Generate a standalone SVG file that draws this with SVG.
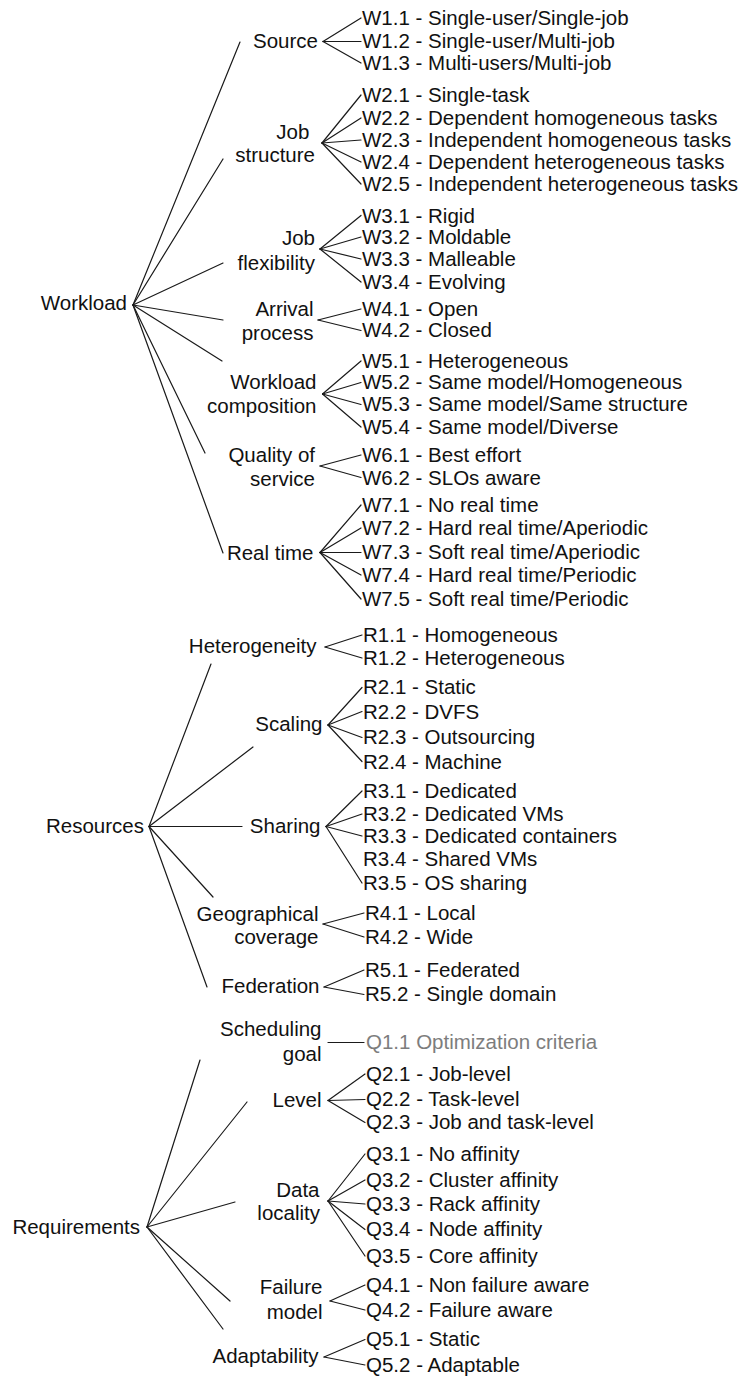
<svg xmlns="http://www.w3.org/2000/svg" width="746" height="1376" viewBox="0 0 746 1376">
<style>
text{font-family:"Liberation Sans",Arial,Helvetica,sans-serif;font-size:20.5px;fill:#111}
.e{text-anchor:end}
.gray{fill:#7d7d7d}
#connectors line{stroke:#1a1a1a;stroke-width:1.2;fill:none;stroke-linecap:round}
</style>
<rect width="746" height="1376" fill="#fff"/>
<g id="connectors">
<!-- Workload -->
<line x1="133" y1="305" x2="240" y2="42"/>
<line x1="133" y1="305" x2="223" y2="159"/>
<line x1="133" y1="305" x2="223" y2="263"/>
<line x1="133" y1="305" x2="223" y2="320"/>
<line x1="133" y1="305" x2="222" y2="361"/>
<line x1="133" y1="305" x2="205" y2="453"/>
<line x1="133" y1="305" x2="223" y2="553"/>
<!-- Source -->
<line x1="323" y1="41.5" x2="361" y2="18"/>
<line x1="323" y1="41.5" x2="361" y2="41.5"/>
<line x1="323" y1="41.5" x2="361" y2="63"/>
<!-- Job structure -->
<line x1="322" y1="143" x2="361" y2="95"/>
<line x1="322" y1="143" x2="361" y2="118"/>
<line x1="322" y1="143" x2="361" y2="140"/>
<line x1="322" y1="143" x2="361" y2="162"/>
<line x1="322" y1="143" x2="361" y2="184"/>
<!-- Job flexibility -->
<line x1="320" y1="249" x2="361" y2="215.5"/>
<line x1="320" y1="249" x2="361" y2="237"/>
<line x1="320" y1="249" x2="361" y2="259"/>
<line x1="320" y1="249" x2="361" y2="282"/>
<!-- Arrival process -->
<line x1="318" y1="320" x2="361" y2="309"/>
<line x1="318" y1="320" x2="361" y2="330.5"/>
<!-- Workload composition -->
<line x1="322.5" y1="394" x2="361" y2="361"/>
<line x1="322.5" y1="394" x2="361" y2="382.5"/>
<line x1="322.5" y1="394" x2="361" y2="404.5"/>
<line x1="322.5" y1="394" x2="361" y2="427"/>
<!-- Quality of service -->
<line x1="320" y1="466" x2="361" y2="455"/>
<line x1="320" y1="466" x2="361" y2="477.5"/>
<!-- Real time -->
<line x1="320" y1="552.5" x2="361" y2="505"/>
<line x1="320" y1="552.5" x2="361" y2="528"/>
<line x1="320" y1="552.5" x2="361" y2="552.5"/>
<line x1="320" y1="552.5" x2="361" y2="575"/>
<line x1="320" y1="552.5" x2="361" y2="599"/>
<!-- Resources -->
<line x1="149" y1="826.5" x2="211" y2="664"/>
<line x1="149" y1="826.5" x2="253" y2="747"/>
<line x1="149" y1="826.5" x2="242" y2="826.5"/>
<line x1="149" y1="826.5" x2="213" y2="897"/>
<line x1="149" y1="826.5" x2="207" y2="987"/>
<!-- Heterogeneity -->
<line x1="325" y1="647" x2="362" y2="635"/>
<line x1="325" y1="647" x2="362" y2="658"/>
<!-- Scaling -->
<line x1="328" y1="725" x2="362" y2="687.5"/>
<line x1="328" y1="725" x2="362" y2="711.5"/>
<line x1="328" y1="725" x2="362" y2="737.5"/>
<line x1="328" y1="725" x2="362" y2="761.5"/>
<!-- Sharing -->
<line x1="326" y1="826.5" x2="362" y2="791"/>
<line x1="326" y1="826.5" x2="362" y2="814"/>
<line x1="326" y1="826.5" x2="362" y2="836"/>
<line x1="326" y1="826.5" x2="362" y2="883"/>
<!-- Geographical coverage -->
<line x1="323" y1="924" x2="364" y2="913"/>
<line x1="323" y1="924" x2="364" y2="937"/>
<!-- Federation -->
<line x1="324" y1="987" x2="364" y2="970"/>
<line x1="324" y1="987" x2="364" y2="994.5"/>
<!-- Requirements -->
<line x1="147" y1="1227" x2="200" y2="1060"/>
<line x1="147" y1="1227" x2="247" y2="1102"/>
<line x1="147" y1="1227" x2="235" y2="1202"/>
<line x1="147" y1="1227" x2="230" y2="1301"/>
<line x1="147" y1="1227" x2="223" y2="1329"/>
<!-- Scheduling goal -->
<line x1="328" y1="1042.5" x2="364" y2="1042.5"/>
<!-- Level -->
<line x1="328" y1="1100.5" x2="365" y2="1074"/>
<line x1="328" y1="1100.5" x2="365" y2="1099.5"/>
<line x1="328" y1="1100.5" x2="365" y2="1122.5"/>
<!-- Data locality -->
<line x1="328" y1="1201" x2="365" y2="1154"/>
<line x1="328" y1="1201" x2="365" y2="1180"/>
<line x1="328" y1="1201" x2="365" y2="1204"/>
<line x1="328" y1="1201" x2="365" y2="1229.5"/>
<line x1="328" y1="1201" x2="365" y2="1256"/>
<!-- Failure model -->
<line x1="330" y1="1301" x2="365" y2="1285"/>
<line x1="330" y1="1301" x2="365" y2="1310"/>
<!-- Adaptability -->
<line x1="324" y1="1357" x2="365" y2="1339.5"/>
<line x1="324" y1="1357" x2="365" y2="1365"/>
</g>

<!-- Root nodes -->
<g id="workload"><text class="e" x="127" y="310">Workload</text></g>
<g id="resources"><text class="e" x="144" y="833">Resources</text></g>
<g id="requirements"><text class="e" x="140" y="1234">Requirements</text></g>

<!-- Workload categories -->
<g id="source"><text class="e" x="318" y="48">Source</text></g>
<g id="job-structure"><text class="e" x="315" y="139" xml:space="preserve">Job </text><text class="e" x="315" y="162">structure</text></g>
<g id="job-flexibility"><text class="e" x="315" y="245">Job</text><text class="e" x="315" y="270">flexibility</text></g>
<g id="arrival-process"><text class="e" x="313.5" y="316">Arrival</text><text class="e" x="313.5" y="340">process</text></g>
<g id="workload-composition"><text class="e" x="316.5" y="389">Workload</text><text class="e" x="316.5" y="413">composition</text></g>
<g id="quality-of-service"><text class="e" x="315" y="462">Quality of</text><text class="e" x="315" y="486">service</text></g>
<g id="real-time"><text class="e" x="313.5" y="560">Real time</text></g>

<!-- Resources categories -->
<g id="heterogeneity"><text class="e" x="316.5" y="653">Heterogeneity</text></g>
<g id="scaling"><text class="e" x="322.5" y="731">Scaling</text></g>
<g id="sharing"><text class="e" x="320.5" y="833">Sharing</text></g>
<g id="geographical-coverage"><text class="e" x="318.5" y="921">Geographical</text><text class="e" x="318.5" y="944">coverage</text></g>
<g id="federation"><text class="e" x="319.5" y="993">Federation</text></g>

<!-- Requirements categories -->
<g id="scheduling-goal"><text class="e" x="321.5" y="1036">Scheduling</text><text class="e" x="321.5" y="1061">goal</text></g>
<g id="level"><text class="e" x="321.5" y="1107">Level</text></g>
<g id="data-locality"><text class="e" x="319.5" y="1197">Data</text><text class="e" x="320" y="1220">locality</text></g>
<g id="failure-model"><text class="e" x="322.5" y="1294">Failure</text><text class="e" x="322.5" y="1319">model</text></g>
<g id="adaptability"><text class="e" x="318.5" y="1363">Adaptability</text></g>

<!-- Leaves: Workload -->
<g id="w1-1"><text x="362" y="25">W1.1 - Single-user/Single-job</text></g>
<g id="w1-2"><text x="362" y="48">W1.2 - Single-user/Multi-job</text></g>
<g id="w1-3"><text x="362" y="70">W1.3 - Multi-users/Multi-job</text></g>
<g id="w2-1"><text x="362" y="102">W2.1 - Single-task</text></g>
<g id="w2-2"><text x="362" y="125">W2.2 - Dependent homogeneous tasks</text></g>
<g id="w2-3"><text x="362" y="147">W2.3 - Independent homogeneous tasks</text></g>
<g id="w2-4"><text x="362" y="169">W2.4 - Dependent heterogeneous tasks</text></g>
<g id="w2-5"><text x="362" y="191">W2.5 - Independent heterogeneous tasks</text></g>
<g id="w3-1"><text x="362" y="223">W3.1 - Rigid</text></g>
<g id="w3-2"><text x="362" y="244">W3.2 - Moldable</text></g>
<g id="w3-3"><text x="362" y="266">W3.3 - Malleable</text></g>
<g id="w3-4"><text x="362" y="289">W3.4 - Evolving</text></g>
<g id="w4-1"><text x="362" y="316">W4.1 - Open</text></g>
<g id="w4-2"><text x="362" y="337">W4.2 - Closed</text></g>
<g id="w5-1"><text x="362" y="368">W5.1 - Heterogeneous</text></g>
<g id="w5-2"><text x="362" y="389">W5.2 - Same model/Homogeneous</text></g>
<g id="w5-3"><text x="362" y="411">W5.3 - Same model/Same structure</text></g>
<g id="w5-4"><text x="362" y="434">W5.4 - Same model/Diverse</text></g>
<g id="w6-1"><text x="362" y="462">W6.1 - Best effort</text></g>
<g id="w6-2"><text x="362" y="485">W6.2 - SLOs aware</text></g>
<g id="w7-1"><text x="362" y="512">W7.1 - No real time</text></g>
<g id="w7-2"><text x="362" y="535">W7.2 - Hard real time/Aperiodic</text></g>
<g id="w7-3"><text x="362" y="559">W7.3 - Soft real time/Aperiodic</text></g>
<g id="w7-4"><text x="362" y="582">W7.4 - Hard real time/Periodic</text></g>
<g id="w7-5"><text x="362" y="606">W7.5 - Soft real time/Periodic</text></g>

<!-- Leaves: Resources -->
<g id="r1-1"><text x="363" y="642">R1.1 - Homogeneous</text></g>
<g id="r1-2"><text x="363" y="665">R1.2 - Heterogeneous</text></g>
<g id="r2-1"><text x="363" y="694">R2.1 - Static</text></g>
<g id="r2-2"><text x="363" y="719">R2.2 - DVFS</text></g>
<g id="r2-3"><text x="363" y="744">R2.3 - Outsourcing</text></g>
<g id="r2-4"><text x="363" y="769">R2.4 - Machine</text></g>
<g id="r3-1"><text x="363" y="798">R3.1 - Dedicated</text></g>
<g id="r3-2"><text x="363" y="821">R3.2 - Dedicated VMs</text></g>
<g id="r3-3"><text x="363" y="843">R3.3 - Dedicated containers</text></g>
<g id="r3-4"><text x="363" y="866">R3.4 - Shared VMs</text></g>
<g id="r3-5"><text x="363" y="890">R3.5 - OS sharing</text></g>
<g id="r4-1"><text x="365" y="920">R4.1 - Local</text></g>
<g id="r4-2"><text x="365" y="944">R4.2 - Wide</text></g>
<g id="r5-1"><text x="365" y="977">R5.1 - Federated</text></g>
<g id="r5-2"><text x="365" y="1001">R5.2 - Single domain</text></g>

<!-- Leaves: Requirements -->
<g id="q1-1"><text class="gray" x="366" y="1049">Q1.1 Optimization criteria</text></g>
<g id="q2-1"><text x="366" y="1081">Q2.1 - Job-level</text></g>
<g id="q2-2"><text x="366" y="1106">Q2.2 - Task-level</text></g>
<g id="q2-3"><text x="366" y="1129">Q2.3 - Job and task-level</text></g>
<g id="q3-1"><text x="366" y="1161">Q3.1 - No affinity</text></g>
<g id="q3-2"><text x="366" y="1187">Q3.2 - Cluster affinity</text></g>
<g id="q3-3"><text x="366" y="1211">Q3.3 - Rack affinity</text></g>
<g id="q3-4"><text x="366" y="1236">Q3.4 - Node affinity</text></g>
<g id="q3-5"><text x="366" y="1263">Q3.5 - Core affinity</text></g>
<g id="q4-1"><text x="366" y="1292">Q4.1 - Non failure aware</text></g>
<g id="q4-2"><text x="366" y="1317">Q4.2 - Failure aware</text></g>
<g id="q5-1"><text x="366" y="1346">Q5.1 - Static</text></g>
<g id="q5-2"><text x="366" y="1372">Q5.2 - Adaptable</text></g>
</svg>
